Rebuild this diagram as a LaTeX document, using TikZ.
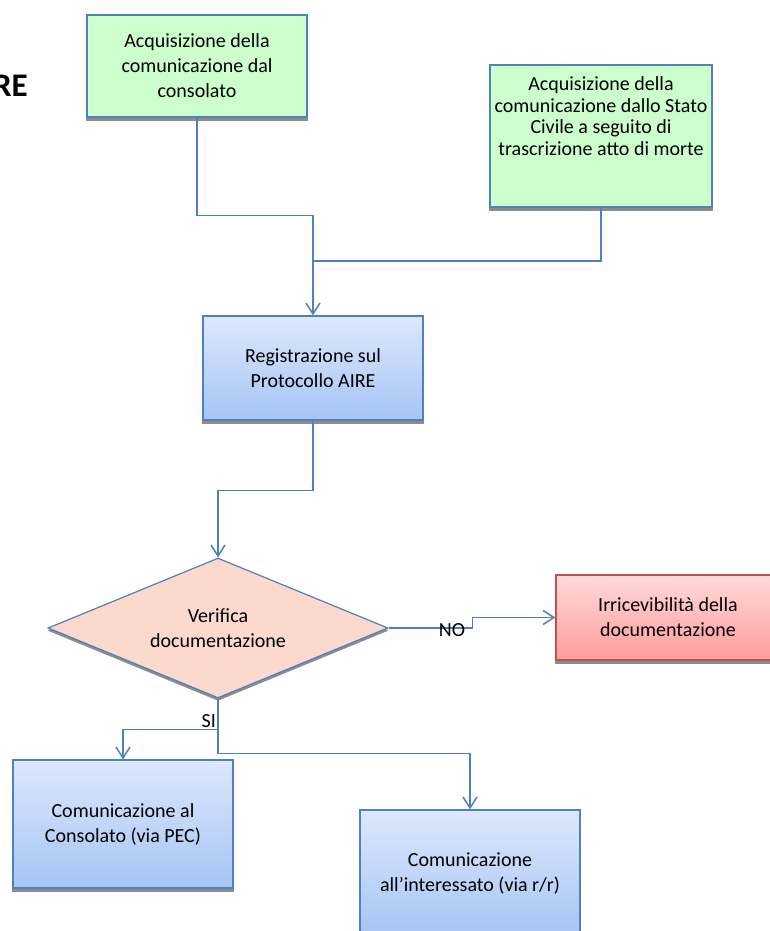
\documentclass[tikz,border=0pt]{standalone}
\usepackage{fontspec}
\setmainfont{Carlito}
\usetikzlibrary{arrows.meta,shapes.geometric}
\definecolor{lnblue}{HTML}{4F81BD}
\definecolor{grfill}{HTML}{CCFFCC}
\definecolor{bltop}{HTML}{DDE8FC}
\definecolor{blbot}{HTML}{A6C4F5}
\definecolor{rdtop}{HTML}{FFDADA}
\definecolor{rdbot}{HTML}{FF9C9C}
\definecolor{rdline}{HTML}{C0504D}
\definecolor{dmfill}{HTML}{FBD9CD}
\definecolor{shgray}{HTML}{8C8C8C}
\begin{document}
\begin{tikzpicture}[x=1pt,y=-1pt,
  txt/.style={font=\fontsize{20}{25}\selectfont, align=center, text=black},
  boxbase/.style={rectangle, draw=lnblue, line width=1.2pt, inner sep=0pt, txt},
  greenbox/.style={boxbase, fill=grfill},
  bluebox/.style={boxbase, top color=bltop, bottom color=blbot},
  redbox/.style={boxbase, draw=rdline, top color=rdtop, bottom color=rdbot},
  conn/.style={draw=lnblue, line width=1.5pt},
  arr/.style={conn, -{Straight Barb[length=11pt,width=14pt]}},
  lbl/.style={font=\fontsize{20}{25}\selectfont, inner sep=0pt},
  shadowstrip/.style={fill=shgray},
  dia/.style={diamond, minimum width=340pt, minimum height=140pt, inner sep=0pt, aspect=2.43},
]
\useasboundingbox (0,0) rectangle (770,931);
\fill[white] (0,0) rectangle (770,931);
\clip (0,0) rectangle (770,931);

% title fragment
\node[font=\bfseries\fontsize{33}{36}\selectfont, anchor=base east, inner sep=0pt] (title) at (28,97) {RE};

% boxes
\node[greenbox, minimum width=220pt, minimum height=102pt] (A) at (197,66) {Acquisizione della\\comunicazione dal\\consolato};
\node[greenbox, minimum width=222pt, minimum height=142pt] (B) at (601,136) {};
\node[txt, font=\fontsize{20}{21.7}\selectfont, inner sep=0pt] (Bt) at (601,116) {Acquisizione della\\comunicazione dallo Stato\\Civile a seguito di\\trascrizione atto di morte};
\node[bluebox, minimum width=220pt, minimum height=104pt] (C) at (313,368) {Registrazione sul\\Protocollo AIRE};
\node[dia, fill=shgray, draw=shgray] (Vsh) at (218,630.5) {};
\node[dia, draw=lnblue, line width=1.2pt, fill=dmfill, txt] (V) at (218,628) {Verifica\\documentazione};
\node[redbox, minimum width=224pt, minimum height=85pt] (D) at (668,617.5) {Irricevibilità della\\documentazione};
\node[bluebox, minimum width=220pt, minimum height=128pt] (E) at (123,824) {Comunicazione al\\Consolato (via PEC)};
\node[bluebox, minimum width=220pt, minimum height=126pt] (F) at (470,873) {Comunicazione\\all'interessato (via r/r)};

% shadows under boxes
\foreach \b in {A,B,C,D,E}{
  \fill[shadowstrip] ([yshift=-0.6pt]\b.south west) rectangle ([yshift=-3.6pt]\b.south east);
}

% connectors
\coordinate (J) at (313,261);
\draw[arr] (A.south) -- ++(0,98) -| (C.north);
\draw[conn] (B.south) |- (J);
\draw[arr] (C.south) -- ++(0,70) -| (V.north);
\draw[arr] (V.east) -- ++(84,0) |- (D.west);
\draw[arr] (V.south) -- ++(0,31) -| (E.north);
\draw[arr] (V.south) -- ++(0,55) -| (F.north);

% labels
\node[lbl, anchor=base] (no) at (452,636) {NO};
\node[lbl, anchor=base east] (si) at (216,727) {SI};
\end{tikzpicture}
\end{document}
